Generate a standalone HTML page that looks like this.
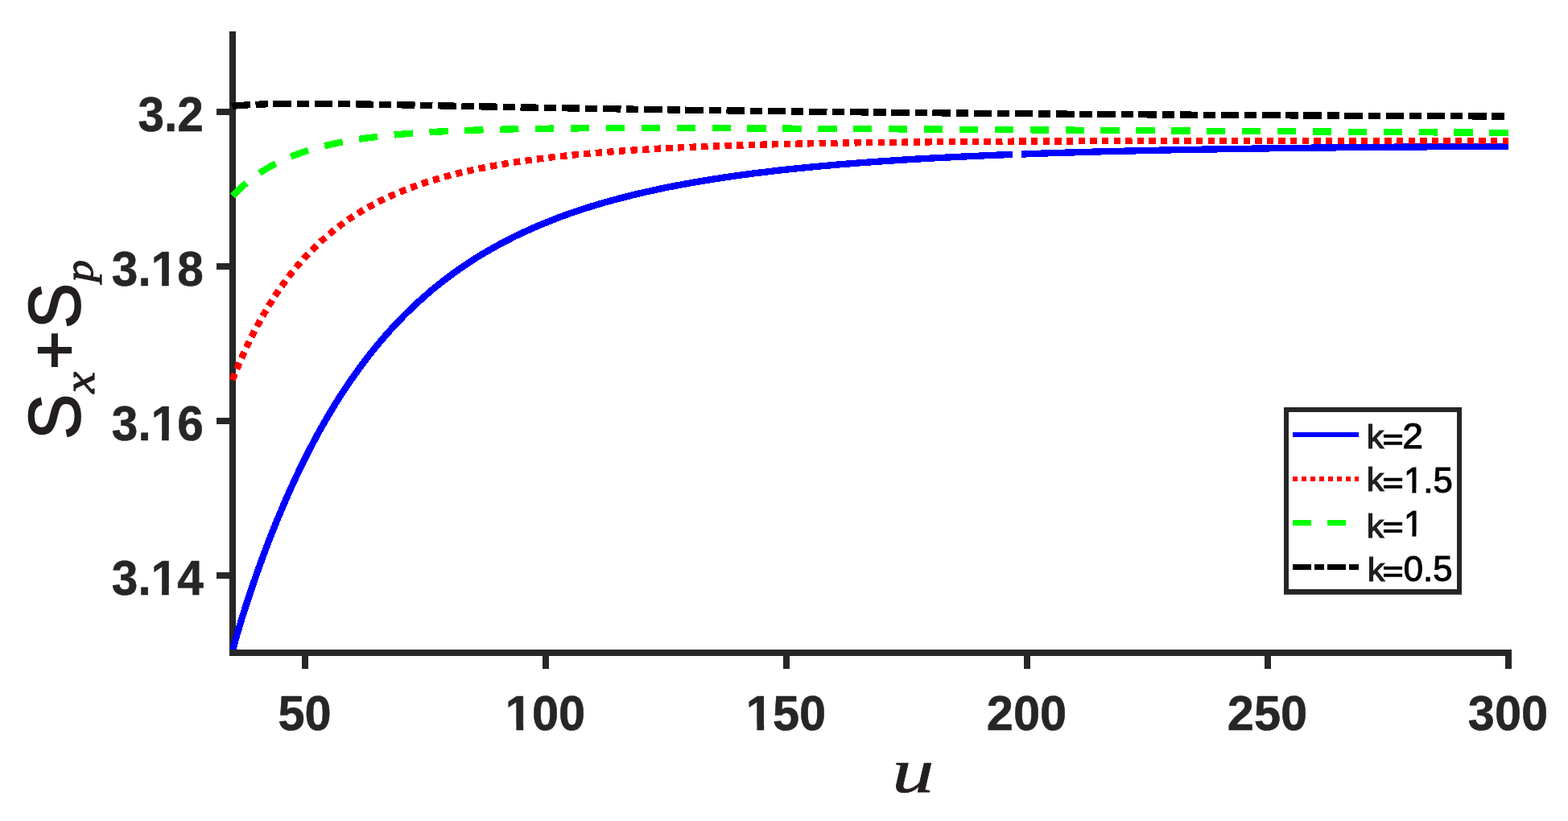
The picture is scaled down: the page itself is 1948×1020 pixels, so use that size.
<!DOCTYPE html>
<html lang="en">
<head>
<meta charset="utf-8">
<title>Plot</title>
<style>
html,body{margin:0;padding:0;background:#ffffff;}
body{width:1948px;height:1020px;overflow:hidden;}
svg{display:block;}
</style>
</head>
<body>
<svg width="1948" height="1020" viewBox="0 0 1948 1020">
<defs><clipPath id="clip"><rect x="285" y="0" width="1600" height="811"/></clipPath></defs>
<rect x="0" y="0" width="1948" height="1020" fill="#ffffff"/>
<g stroke="#262626" stroke-width="8" fill="none">
<path d="M289.0 39.0V815.0"/>
<path d="M269.0 715.0H289.0"/>
<path d="M269.0 523.0H289.0"/>
<path d="M269.0 331.0H289.0"/>
<path d="M269.0 139.0H289.0"/>
</g>
<g fill="none" stroke-width="8.33" clip-path="url(#clip)" shape-rendering="crispEdges">
<path stroke="#0000ff" d="M287.8 812.8L288.0 811.9L288.5 810.2L289.1 807.9L289.8 805.1L290.7 801.9L291.6 798.4L292.7 794.6L293.9 790.5L295.1 786.1L296.5 781.6L297.9 776.8L299.4 771.9L301.0 766.7L302.7 761.5L304.4 756.0L306.2 750.4L308.1 744.7L310.1 738.8L312.1 732.8L314.1 726.7L316.3 720.5L318.5 714.2L320.7 707.8L323.1 701.4L325.4 694.8L327.9 688.2L330.4 681.6L332.9 674.9L335.5 668.1L338.2 661.3L340.9 654.5L343.7 647.7L346.5 640.8L349.4 634.0L352.3 627.1L355.3 620.2L358.3 613.4L361.4 606.5L364.5 599.7L367.7 592.8L370.9 586.0L374.1 579.3L377.5 572.5L380.8 565.8L384.2 559.1L387.7 552.5L391.2 545.9L394.7 539.4L398.3 532.9L401.9 526.5L405.6 520.1L409.3 513.8L413.1 507.5L416.9 501.3L420.7 495.2L424.6 489.1L428.5 483.1L432.5 477.2L436.5 471.4L440.6 465.6L444.7 459.9L448.8 454.2L453.0 448.7L457.2 443.2L461.5 437.8L465.7 432.4L470.1 427.2L474.5 422.0L478.9 416.9L483.3 411.9L487.8 407.0L492.3 402.1L496.9 397.3L501.5 392.6L506.1 388.0L510.8 383.5L515.5 379.0L520.3 374.6L525.1 370.3L529.9 366.1L534.7 361.9L539.6 357.8L544.6 353.8L549.5 349.9L554.5 346.1L559.6 342.3L564.7 338.6L569.8 334.9L574.9 331.4L580.1 327.9L585.3 324.5L590.5 321.1L595.8 317.8L601.1 314.6L606.5 311.5L611.9 308.4L617.3 305.4L622.8 302.4L628.2 299.5L633.8 296.7L639.3 293.9L644.9 291.2L650.5 288.6L656.2 286.0L661.8 283.4L667.6 281.0L673.3 278.5L679.1 276.2L684.9 273.9L690.8 271.6L696.6 269.4L702.5 267.2L708.5 265.1L714.4 263.0L720.5 261.0L726.5 259.1L732.6 257.1L738.7 255.3L744.8 253.4L750.9 251.6L757.1 249.9L763.4 248.2L769.6 246.5L775.9 244.9L782.2 243.3L788.5 241.7L794.9 240.2L801.3 238.7L807.8 237.3L814.2 235.9L820.7 234.5L827.2 233.1L833.8 231.8L840.4 230.5L847.0 229.3L853.6 228.1L860.3 226.9L867.0 225.7L873.7 224.6L880.5 223.5L887.3 222.4L894.1 221.4L900.9 220.3L907.8 219.3L914.7 218.3L921.7 217.4L928.6 216.5L935.6 215.5L942.6 214.7L949.7 213.8L956.7 213.0L963.8 212.1L971.0 211.3L978.1 210.5L985.3 209.8L992.5 209.0L999.8 208.3L1007.0 207.6L1014.3 206.9L1021.7 206.2L1029.0 205.6L1036.4 204.9L1043.8 204.3L1051.2 203.7L1058.7 203.1L1066.2 202.5L1073.7 201.9L1081.2 201.4L1088.8 200.8L1096.4 200.3L1104.0 199.8L1111.7 199.3L1119.4 198.8L1127.1 198.3L1134.8 197.8L1142.6 197.4L1150.3 196.9L1158.2 196.5L1166.0 196.1L1173.9 195.7L1181.7 195.3L1189.7 194.9L1197.6 194.5L1205.6 194.1L1213.6 193.8L1221.6 193.4L1229.6 193.1L1237.7 192.7L1245.8 192.4L1253.9 192.1L1258.0 191.9"/>
<path stroke="#0000ff" d="M1269.0 191.5L1270.2 191.5L1278.4 191.2L1286.7 190.9L1294.9 190.6L1303.2 190.3L1311.5 190.0L1319.8 189.8L1328.2 189.5L1336.5 189.3L1345.0 189.0L1353.4 188.8L1361.8 188.5L1370.3 188.3L1378.8 188.1L1387.3 187.9L1395.9 187.7L1404.5 187.5L1413.1 187.3L1421.7 187.1L1430.4 186.9L1439.0 186.7L1447.7 186.5L1456.5 186.3L1465.2 186.2L1474.0 186.0L1482.8 185.8L1491.6 185.7L1500.4 185.5L1509.3 185.4L1518.2 185.2L1527.1 185.1L1536.1 184.9L1545.0 184.8L1554.0 184.7L1563.1 184.5L1572.1 184.4L1581.2 184.3L1590.2 184.2L1599.4 184.0L1608.5 183.9L1617.7 183.8L1626.8 183.7L1636.0 183.6L1645.3 183.5L1654.5 183.4L1663.8 183.3L1673.1 183.2L1682.4 183.1L1691.8 183.0L1701.2 182.9L1710.5 182.9L1720.0 182.8L1729.4 182.7L1738.9 182.6L1748.4 182.5L1757.9 182.5L1767.4 182.4L1777.0 182.3L1786.5 182.2L1796.1 182.2L1805.8 182.1L1815.4 182.1L1825.1 182.0L1834.8 181.9L1844.5 181.9L1854.3 181.8L1864.0 181.8L1873.8 181.7"/>
<path stroke="#ff0000" stroke-dasharray="8.36 6.28" d="M288.7 472.0L288.9 471.4L289.4 470.3L290.0 468.8L290.7 467.0L291.6 464.9L292.5 462.5L293.6 460.0L294.8 457.2L296.0 454.2L297.4 451.1L298.8 447.8L300.3 444.4L301.9 440.8L303.6 437.2L305.3 433.5L307.1 429.6L309.0 425.7L310.9 421.7L313.0 417.7L315.0 413.6L317.2 409.5L319.4 405.3L321.6 401.2L323.9 396.9L326.3 392.7L328.8 388.5L331.3 384.3L333.8 380.1L336.4 375.9L339.1 371.7L341.8 367.5L344.5 363.4L347.4 359.2L350.2 355.2L353.2 351.1L356.1 347.1L359.2 343.1L362.2 339.2L365.3 335.3L368.5 331.5L371.7 327.7L375.0 324.0L378.3 320.3L381.7 316.7L385.1 313.2L388.5 309.7L392.0 306.2L395.5 302.9L399.1 299.6L402.8 296.3L406.4 293.1L410.1 290.0L413.9 286.9L417.7 283.9L421.5 281.0L425.4 278.1L429.4 275.3L433.3 272.5L437.3 269.8L441.4 267.2L445.5 264.6L449.6 262.1L453.8 259.7L458.0 257.3L462.3 255.0L466.5 252.7L470.9 250.4L475.2 248.3L479.7 246.2L484.1 244.1L488.6 242.1L493.1 240.1L497.7 238.2L502.3 236.4L506.9 234.6L511.6 232.8L516.3 231.1L521.0 229.4L525.8 227.8L530.6 226.2L535.5 224.7L540.4 223.2L545.3 221.7L550.3 220.3L555.3 218.9L560.3 217.6L565.4 216.3L570.5 215.0L575.6 213.8L580.8 212.6L586.0 211.5L591.3 210.3L596.6 209.2L601.9 208.2L607.2 207.1L612.6 206.1L618.0 205.1L623.5 204.2L628.9 203.3L634.5 202.4L640.0 201.5L645.6 200.7L651.2 199.9L656.9 199.1L662.5 198.3L668.2 197.5L674.0 196.8L679.8 196.1L685.6 195.4L691.4 194.7L697.3 194.1L703.2 193.5L709.1 192.9L715.1 192.3L721.1 191.7L727.1 191.1L733.2 190.6L739.3 190.1L745.4 189.6L751.6 189.1L757.8 188.6L764.0 188.1L770.2 187.7L776.5 187.2L782.8 186.8L789.2 186.4L795.5 186.0L801.9 185.6L808.4 185.3L814.8 184.9L821.3 184.5L827.8 184.2L834.4 183.9L841.0 183.6L847.6 183.2L854.2 182.9L860.9 182.7L867.6 182.4L874.3 182.1L881.1 181.8L887.8 181.6L894.7 181.3L901.5 181.1L908.4 180.9L915.3 180.6L922.2 180.4L929.1 180.2L936.1 180.0L943.1 179.8L950.2 179.6L957.3 179.4L964.4 179.3L971.5 179.1L978.6 178.9L985.8 178.8L993.0 178.6L1000.3 178.5L1007.5 178.3L1014.8 178.2L1022.1 178.1L1029.5 177.9L1036.9 177.8L1044.3 177.7L1051.7 177.6L1059.2 177.5L1066.6 177.3L1074.2 177.2L1081.7 177.1L1089.3 177.0L1096.9 176.9L1104.5 176.9L1112.1 176.8L1119.8 176.7L1127.5 176.6L1135.2 176.5L1143.0 176.5L1150.8 176.4L1158.6 176.3L1166.4 176.2L1174.2 176.2L1182.1 176.1L1190.0 176.1L1198.0 176.0L1205.9 176.0L1213.9 175.9L1221.9 175.8L1230.0 175.8L1238.1 175.8L1246.1 175.7L1254.3 175.7L1262.4 175.6L1270.6 175.6L1278.8 175.6L1287.0 175.5L1295.2 175.5L1303.5 175.4L1311.8 175.4L1320.1 175.4L1328.5 175.4L1336.9 175.3L1345.3 175.3L1353.7 175.3L1362.1 175.3L1370.6 175.2L1379.1 175.2L1387.6 175.2L1396.2 175.2L1404.7 175.2L1413.3 175.1L1422.0 175.1L1430.6 175.1L1439.3 175.1L1448.0 175.1L1456.7 175.1L1465.4 175.0L1474.2 175.0L1483.0 175.0L1491.8 175.0L1500.7 175.0L1509.5 175.0L1518.4 175.0L1527.3 175.0L1536.3 175.0L1545.2 175.0L1554.2 175.0L1563.2 174.9L1572.3 174.9L1581.3 174.9L1590.4 174.9L1599.5 174.9L1608.6 174.9L1617.8 174.9L1627.0 174.9L1636.2 174.9L1645.4 174.9L1654.7 174.9L1663.9 174.9L1673.2 174.9L1682.5 174.9L1691.9 174.9L1701.3 174.9L1710.6 174.9L1720.1 174.9L1729.5 174.9L1738.9 174.9L1748.4 174.9L1757.9 174.9L1767.5 174.9L1777.0 174.9L1786.6 174.9L1796.2 174.9L1805.8 174.9L1815.5 174.9L1825.1 174.9L1834.8 174.9L1844.5 174.9L1854.3 174.9L1864.0 174.9L1873.8 174.9"/>
<path stroke="#00ff00" stroke-dasharray="23.3 20.6" d="M289.0 243.3L289.2 243.1L289.7 242.6L290.3 242.0L291.0 241.2L291.9 240.3L292.8 239.4L293.9 238.3L295.1 237.2L296.3 236.0L297.7 234.7L299.1 233.4L300.6 232.0L302.2 230.6L303.9 229.2L305.6 227.7L307.4 226.2L309.3 224.7L311.2 223.2L313.2 221.6L315.3 220.1L317.5 218.6L319.7 217.0L321.9 215.5L324.2 213.9L326.6 212.4L329.1 210.9L331.5 209.4L334.1 207.9L336.7 206.4L339.4 205.0L342.1 203.5L344.8 202.1L347.7 200.8L350.5 199.4L353.4 198.1L356.4 196.8L359.4 195.5L362.5 194.2L365.6 193.0L368.8 191.8L372.0 190.6L375.3 189.5L378.6 188.4L381.9 187.3L385.3 186.2L388.8 185.2L392.3 184.2L395.8 183.2L399.4 182.3L403.0 181.3L406.7 180.5L410.4 179.6L414.2 178.8L418.0 177.9L421.8 177.2L425.7 176.4L429.6 175.7L433.6 174.9L437.6 174.3L441.7 173.6L445.8 172.9L449.9 172.3L454.1 171.7L458.3 171.2L462.5 170.6L466.8 170.1L471.1 169.5L475.5 169.0L479.9 168.6L484.4 168.1L488.9 167.7L493.4 167.2L497.9 166.8L502.5 166.4L507.2 166.0L511.8 165.7L516.6 165.3L521.3 165.0L526.1 164.7L530.9 164.4L535.8 164.1L540.7 163.8L545.6 163.5L550.5 163.3L555.5 163.0L560.6 162.8L565.6 162.5L570.8 162.3L575.9 162.1L581.1 161.9L586.3 161.7L591.5 161.6L596.8 161.4L602.1 161.2L607.5 161.1L612.8 160.9L618.3 160.8L623.7 160.7L629.2 160.5L634.7 160.4L640.2 160.3L645.8 160.2L651.4 160.1L657.1 160.0L662.8 159.9L668.5 159.9L674.2 159.8L680.0 159.7L685.8 159.6L691.6 159.6L697.5 159.5L703.4 159.5L709.4 159.4L715.3 159.4L721.3 159.3L727.4 159.3L733.4 159.3L739.5 159.2L745.6 159.2L751.8 159.2L758.0 159.2L764.2 159.2L770.4 159.1L776.7 159.1L783.0 159.1L789.4 159.1L795.7 159.1L802.1 159.1L808.6 159.1L815.0 159.1L821.5 159.1L828.0 159.1L834.6 159.1L841.2 159.1L847.8 159.2L854.4 159.2L861.1 159.2L867.8 159.2L874.5 159.2L881.2 159.2L888.0 159.3L894.8 159.3L901.7 159.3L908.5 159.3L915.4 159.4L922.4 159.4L929.3 159.4L936.3 159.4L943.3 159.5L950.4 159.5L957.4 159.5L964.5 159.6L971.7 159.6L978.8 159.6L986.0 159.7L993.2 159.7L1000.4 159.7L1007.7 159.8L1015.0 159.8L1022.3 159.8L1029.7 159.9L1037.0 159.9L1044.4 160.0L1051.9 160.0L1059.3 160.0L1066.8 160.1L1074.3 160.1L1081.8 160.2L1089.4 160.2L1097.0 160.2L1104.6 160.3L1112.3 160.3L1119.9 160.4L1127.6 160.4L1135.4 160.5L1143.1 160.5L1150.9 160.6L1158.7 160.6L1166.5 160.6L1174.4 160.7L1182.3 160.7L1190.2 160.8L1198.1 160.8L1206.1 160.9L1214.1 160.9L1222.1 161.0L1230.1 161.0L1238.2 161.1L1246.3 161.1L1254.4 161.2L1262.5 161.2L1270.7 161.3L1278.9 161.3L1287.1 161.4L1295.4 161.4L1303.6 161.5L1311.9 161.5L1320.2 161.6L1328.6 161.6L1337.0 161.7L1345.4 161.7L1353.8 161.8L1362.2 161.8L1370.7 161.9L1379.2 161.9L1387.7 162.0L1396.3 162.0L1404.8 162.1L1413.4 162.1L1422.0 162.2L1430.7 162.2L1439.4 162.3L1448.1 162.3L1456.8 162.4L1465.5 162.4L1474.3 162.5L1483.1 162.5L1491.9 162.6L1500.7 162.7L1509.6 162.7L1518.5 162.8L1527.4 162.8L1536.3 162.9L1545.3 162.9L1554.3 163.0L1563.3 163.0L1572.3 163.1L1581.4 163.1L1590.5 163.2L1599.6 163.3L1608.7 163.3L1617.8 163.4L1627.0 163.4L1636.2 163.5L1645.4 163.5L1654.7 163.6L1664.0 163.6L1673.3 163.7L1682.6 163.8L1691.9 163.8L1701.3 163.9L1710.7 163.9L1720.1 164.0L1729.5 164.0L1739.0 164.1L1748.5 164.2L1758.0 164.2L1767.5 164.3L1777.0 164.3L1786.6 164.4L1796.2 164.5L1805.8 164.5L1815.5 164.6L1825.1 164.6L1834.8 164.7L1844.5 164.7L1854.3 164.8L1864.0 164.9L1873.8 164.9"/>
<path stroke="#000000" stroke-dasharray="22.6 6.7 15.2 6.7" d="M288.3 131.9L288.5 131.8L289.0 131.8L289.6 131.7L290.3 131.7L291.2 131.6L292.1 131.5L293.2 131.4L294.4 131.3L295.6 131.2L297.0 131.1L298.4 131.0L299.9 130.9L301.5 130.8L303.2 130.7L304.9 130.5L306.7 130.4L308.6 130.3L310.5 130.2L312.6 130.1L314.6 130.0L316.8 129.9L319.0 129.8L321.2 129.7L323.6 129.6L325.9 129.5L328.4 129.4L330.9 129.3L333.4 129.3L336.0 129.2L338.7 129.1L341.4 129.1L344.2 129.0L347.0 128.9L349.9 128.9L352.8 128.9L355.7 128.8L358.8 128.8L361.8 128.8L365.0 128.7L368.1 128.7L371.4 128.7L374.6 128.7L377.9 128.7L381.3 128.7L384.7 128.7L388.1 128.7L391.6 128.7L395.2 128.8L398.8 128.8L402.4 128.8L406.1 128.8L409.8 128.9L413.5 128.9L417.3 129.0L421.2 129.0L425.1 129.1L429.0 129.1L433.0 129.2L437.0 129.2L441.0 129.3L445.1 129.4L449.3 129.4L453.4 129.5L457.6 129.6L461.9 129.7L466.2 129.7L470.5 129.8L474.9 129.9L479.3 130.0L483.8 130.1L488.2 130.1L492.8 130.2L497.3 130.3L501.9 130.4L506.6 130.5L511.2 130.6L516.0 130.7L520.7 130.8L525.5 130.9L530.3 131.0L535.2 131.1L540.1 131.2L545.0 131.3L550.0 131.4L555.0 131.5L560.0 131.6L565.1 131.7L570.2 131.8L575.3 131.9L580.5 132.0L585.7 132.1L591.0 132.2L596.2 132.3L601.6 132.4L606.9 132.5L612.3 132.6L617.7 132.7L623.1 132.8L628.6 132.9L634.1 133.0L639.7 133.2L645.3 133.3L650.9 133.4L656.5 133.5L662.2 133.6L667.9 133.7L673.7 133.8L679.5 133.9L685.3 134.0L691.1 134.1L697.0 134.2L702.9 134.3L708.8 134.4L714.8 134.5L720.8 134.6L726.9 134.7L732.9 134.8L739.0 134.9L745.1 135.0L751.3 135.1L757.5 135.2L763.7 135.3L770.0 135.4L776.2 135.5L782.5 135.6L788.9 135.7L795.3 135.8L801.7 135.9L808.1 136.0L814.6 136.1L821.0 136.2L827.6 136.3L834.1 136.4L840.7 136.5L847.3 136.6L854.0 136.7L860.6 136.8L867.3 136.9L874.0 137.0L880.8 137.1L887.6 137.2L894.4 137.3L901.2 137.3L908.1 137.4L915.0 137.5L922.0 137.6L928.9 137.7L935.9 137.8L942.9 137.9L950.0 138.0L957.0 138.1L964.1 138.1L971.3 138.2L978.4 138.3L985.6 138.4L992.8 138.5L1000.0 138.6L1007.3 138.7L1014.6 138.7L1021.9 138.8L1029.3 138.9L1036.7 139.0L1044.1 139.1L1051.5 139.2L1059.0 139.2L1066.4 139.3L1074.0 139.4L1081.5 139.5L1089.1 139.6L1096.7 139.6L1104.3 139.7L1111.9 139.8L1119.6 139.9L1127.3 139.9L1135.0 140.0L1142.8 140.1L1150.6 140.2L1158.4 140.2L1166.2 140.3L1174.1 140.4L1182.0 140.5L1189.9 140.5L1197.8 140.6L1205.8 140.7L1213.8 140.7L1221.8 140.8L1229.8 140.9L1237.9 140.9L1246.0 141.0L1254.1 141.1L1262.3 141.1L1270.4 141.2L1278.6 141.3L1286.8 141.3L1295.1 141.4L1303.4 141.5L1311.7 141.5L1320.0 141.6L1328.3 141.7L1336.7 141.7L1345.1 141.8L1353.5 141.8L1362.0 141.9L1370.5 142.0L1379.0 142.0L1387.5 142.1L1396.0 142.1L1404.6 142.2L1413.2 142.2L1421.8 142.3L1430.5 142.4L1439.2 142.4L1447.9 142.5L1456.6 142.5L1465.3 142.6L1474.1 142.6L1482.9 142.7L1491.7 142.7L1500.6 142.8L1509.4 142.8L1518.3 142.9L1527.2 142.9L1536.2 143.0L1545.2 143.0L1554.1 143.1L1563.2 143.1L1572.2 143.2L1581.3 143.2L1590.3 143.3L1599.4 143.3L1608.6 143.4L1617.7 143.4L1626.9 143.5L1636.1 143.5L1645.3 143.6L1654.6 143.6L1663.9 143.6L1673.2 143.7L1682.5 143.7L1691.8 143.8L1701.2 143.8L1710.6 143.9L1720.0 143.9L1729.5 143.9L1738.9 144.0L1748.4 144.0L1757.9 144.1L1767.4 144.1L1777.0 144.1L1786.6 144.2L1796.2 144.2L1805.8 144.2L1815.4 144.3L1825.1 144.3L1834.8 144.4L1844.5 144.4L1854.3 144.4L1864.0 144.5L1873.8 144.5"/>
</g>
<g stroke="#262626" stroke-width="8" fill="none">
<path d="M285.0 811.0H1878"/>
<path d="M379 811.0V831.0"/>
<path d="M678 811.0V831.0"/>
<path d="M977 811.0V831.0"/>
<path d="M1276 811.0V831.0"/>
<path d="M1575 811.0V831.0"/>
<path d="M1874 811.0V831.0"/>
</g>
<g font-family="'Liberation Sans', Arial, Helvetica, sans-serif" font-weight="bold" font-size="61.7" fill="#262626" stroke="#262626" stroke-width="0.6" stroke-linejoin="round">
<text transform="translate(378.5 907.3) scale(0.965 1)" text-anchor="middle">50</text>
<text transform="translate(677.5 907.3) scale(0.965 1)" text-anchor="middle">100</text>
<text transform="translate(976.5 907.3) scale(0.965 1)" text-anchor="middle">150</text>
<text transform="translate(1275.5 907.3) scale(0.965 1)" text-anchor="middle">200</text>
<text transform="translate(1574.5 907.3) scale(0.965 1)" text-anchor="middle">250</text>
<text transform="translate(1873.5 907.3) scale(0.965 1)" text-anchor="middle">300</text>
<text transform="translate(252.9 162.8) scale(0.95 1)" text-anchor="end">3.2</text>
<text transform="translate(252.9 354.8) scale(0.95 1)" text-anchor="end">3.18</text>
<text transform="translate(252.9 546.8) scale(0.95 1)" text-anchor="end">3.16</text>
<text transform="translate(252.9 738.8) scale(0.95 1)" text-anchor="end">3.14</text>
</g>
<rect x="630.03" y="899.41" width="11.38" height="10.79" fill="#ffffff"/>
<rect x="650.20" y="899.41" width="10.60" height="10.79" fill="#ffffff"/>
<rect x="929.03" y="899.41" width="11.38" height="10.79" fill="#ffffff"/>
<rect x="949.20" y="899.41" width="10.60" height="10.79" fill="#ffffff"/>
<rect x="189.87" y="346.91" width="11.20" height="10.79" fill="#ffffff"/>
<rect x="209.73" y="346.91" width="10.44" height="10.79" fill="#ffffff"/>
<rect x="189.87" y="538.91" width="11.20" height="10.79" fill="#ffffff"/>
<rect x="209.73" y="538.91" width="10.44" height="10.79" fill="#ffffff"/>
<rect x="189.87" y="730.91" width="11.20" height="10.79" fill="#ffffff"/>
<rect x="209.73" y="730.91" width="10.44" height="10.79" fill="#ffffff"/>
<text transform="translate(1108.2 984.0) scale(1.323 1)" x="0" y="0" font-family="'Liberation Serif', 'Times New Roman', Times, serif" font-style="italic" font-size="79" fill="#231f20" stroke="#231f20" stroke-width="0.7">u</text>
<text transform="translate(99.3 542.2) rotate(-90)" font-family="'Liberation Sans', Arial, Helvetica, sans-serif" font-size="90.8" fill="#231f20" stroke="#231f20" stroke-width="1.8"><tspan x="-3.7" y="0" textLength="56.6" lengthAdjust="spacingAndGlyphs">S</tspan><tspan x="53.6" y="17.2" font-family="'Liberation Serif', 'Times New Roman', Times, serif" font-style="italic" font-size="55" stroke-width="1.2" textLength="26.6" lengthAdjust="spacingAndGlyphs">x</tspan><tspan x="83.4" y="-4.5" font-size="81" stroke-width="2.2">+</tspan><tspan x="133.85" y="0" textLength="56.6" lengthAdjust="spacingAndGlyphs">S</tspan><tspan x="192.0" y="15.8" font-family="'Liberation Serif', 'Times New Roman', Times, serif" font-style="italic" font-size="50" stroke-width="1.2" textLength="27.2" lengthAdjust="spacingAndGlyphs">p</tspan></text>
<rect x="1598" y="509" width="215" height="226" fill="#ffffff"/>
<path fill="#262626" fill-rule="evenodd" d="M1595 506H1816V738.8H1595ZM1601 512H1810V732H1601Z"/>
<path d="M1605.9 540.0H1688" stroke="#0000ff" stroke-width="6" fill="none" shape-rendering="crispEdges"/>
<text font-family="'Liberation Sans', Arial, Helvetica, sans-serif" font-size="44.0" fill="#000000" stroke="#000000" stroke-width="1.1"><tspan x="1697.7" y="557" font-size="41.1" stroke-width="1.2" fill="#231f20" stroke="#231f20" textLength="21.5" lengthAdjust="spacingAndGlyphs">k</tspan><tspan x="1717.7" y="558" font-size="34.4" stroke-width="1.42" textLength="25.6" lengthAdjust="spacingAndGlyphs">=</tspan><tspan x="1742.3" y="557" textLength="25.7" lengthAdjust="spacingAndGlyphs">2</tspan></text>
<path d="M1605.9 595.0H1688" stroke="#ff0000" stroke-width="6" fill="none" shape-rendering="crispEdges" stroke-dasharray="6.25 4.7"/>
<text font-family="'Liberation Sans', Arial, Helvetica, sans-serif" font-size="44.0" fill="#000000" stroke="#000000" stroke-width="1.1"><tspan x="1697.7" y="610" font-size="41.1" stroke-width="1.2" fill="#231f20" stroke="#231f20" textLength="21.5" lengthAdjust="spacingAndGlyphs">k</tspan><tspan x="1717.7" y="612" font-size="34.4" stroke-width="1.42" textLength="25.6" lengthAdjust="spacingAndGlyphs">=</tspan><tspan x="1743.9" y="612" textLength="60.9" lengthAdjust="spacingAndGlyphs">1.5</tspan></text>
<rect x="1745.69" y="607.15" width="8.67" height="8.00" fill="#ffffff"/>
<rect x="1759.35" y="607.15" width="8.31" height="8.00" fill="#ffffff"/>
<path d="M1605.9 649.5H1688" stroke="#00ff00" stroke-width="7" fill="none" shape-rendering="crispEdges" stroke-dasharray="23.1 19.85"/>
<text font-family="'Liberation Sans', Arial, Helvetica, sans-serif" font-size="44.0" fill="#000000" stroke="#000000" stroke-width="1.1"><tspan x="1697.7" y="668" font-size="41.1" stroke-width="1.2" fill="#231f20" stroke="#231f20" textLength="21.5" lengthAdjust="spacingAndGlyphs">k</tspan><tspan x="1717.7" y="667" font-size="34.4" stroke-width="1.42" textLength="25.6" lengthAdjust="spacingAndGlyphs">=</tspan><tspan x="1743.9" y="666" textLength="24.5" lengthAdjust="spacingAndGlyphs">1</tspan></text>
<rect x="1745.69" y="661.15" width="8.70" height="8.00" fill="#ffffff"/>
<rect x="1759.41" y="661.15" width="8.35" height="8.00" fill="#ffffff"/>
<path d="M1605.9 704.5H1688" stroke="#000000" stroke-width="7" fill="none" shape-rendering="crispEdges" stroke-dasharray="23.1 4.2 11.6 4.1"/>
<text font-family="'Liberation Sans', Arial, Helvetica, sans-serif" font-size="44.0" fill="#000000" stroke="#000000" stroke-width="1.1"><tspan x="1698.7" y="722" font-size="41.1" stroke-width="1.2" fill="#231f20" stroke="#231f20" textLength="21.5" lengthAdjust="spacingAndGlyphs">k</tspan><tspan x="1717.7" y="722" font-size="34.4" stroke-width="1.42" textLength="25.6" lengthAdjust="spacingAndGlyphs">=</tspan><tspan x="1743.8" y="722" textLength="60.6" lengthAdjust="spacingAndGlyphs">0.5</tspan></text>
</svg>
</body>
</html>
